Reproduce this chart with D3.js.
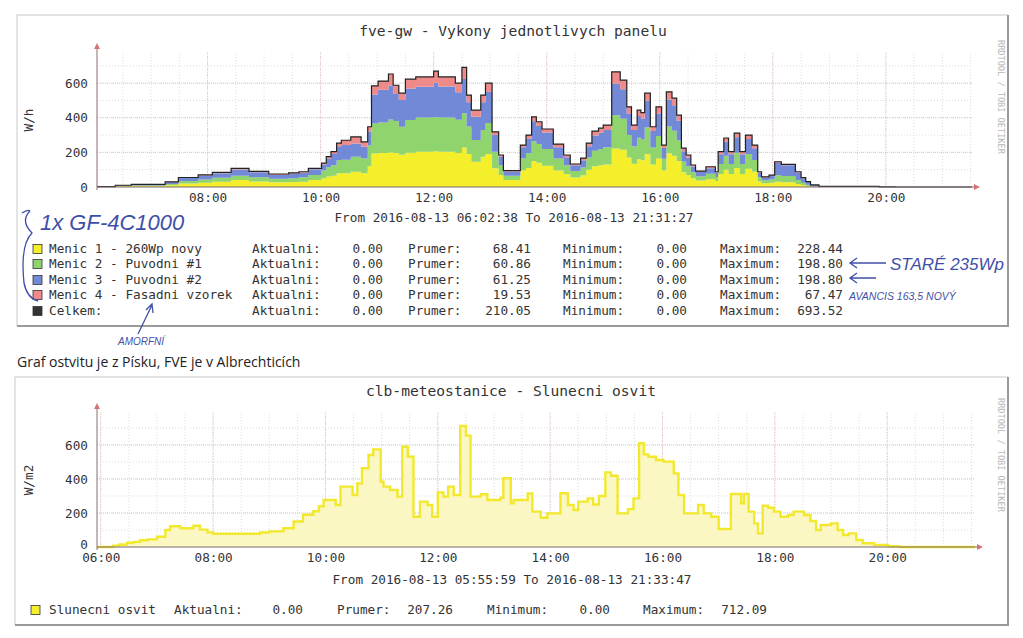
<!DOCTYPE html>
<html>
<head>
<meta charset="utf-8">
<script src="https://cdn.jsdelivr.net/npm/d3@7"></script>
<style>
  body { margin: 0; background: #fff; }
  svg { display: block; }
  .mono { font-family: "DejaVu Sans Mono", monospace; fill: #333; }
  .hand { font-family: "Liberation Sans", sans-serif; font-style: italic; fill: #3f4fa8; }
</style>
</head>
<body>
<svg width="1023" height="638"></svg>
<script>
// ---- fve-gw: vykony jednotlivych panelu (W/h), step values
var topStart = "06:02:38", topEnd = "21:31:27";
var topTimes = ["06:02:38","06:22","06:39","07:15","07:29","07:50","08:05","08:25","08:44","09:05",
  "09:26","09:37","09:47","10:01","10:06","10:11","10:17","10:22","10:32","10:43",
  "10:50","10:54","11:01","11:12","11:17","11:23","11:30","11:41","12:00","12:05",
  "12:23","12:30","12:35","12:40","12:50","12:55","13:02","13:09","13:14","13:32",
  "13:38","13:44","13:49","13:55","14:07","14:18","14:25","14:36","14:42","14:48",
  "14:55","15:00","15:09","15:18","15:25","15:30","15:36","15:40","15:44","15:50",
  "15:56","16:02","16:07","16:13","16:18","16:23","16:28","16:33","16:38","16:49",
  "16:59","17:02","17:08","17:13","17:19","17:25","17:31","17:38","17:44","17:48",
  "17:56","18:02","18:09","18:24","18:30","18:35","18:40","18:49","19:53","20:10"];
var menic1 = [1,4,6,10,20,25,30,40,32,27, 29,31,40,50,60,65,79,80,88,79,
  120,194,196,200,196,186,198,204,206,204, 196,228,190,146,175,190,108,70,40,95,
  110,150,140,123,95,75,55,68,100,120, 125,130,223,215,170,135,160,155,190,130,
  165,95,195,180,150,85,70,50,38,45, 35,75,100,75,110,75,105,88,32,22,
  25,30,28,18,10,5,2,1,0,0];
var menic2 = [0,2,3,8,15,19,23,25,24,20, 22,25,29,45,55,60,77,77,87,86,
  120,173,176,190,185,162,189,198,198,198, 192,198,160,125,155,180,96,55,25,70,
  85,115,108,97,70,50,37,45,70,90, 95,100,192,180,130,100,125,120,155,98,
  130,68,155,145,118,62,50,35,24,32, 23,58,80,58,88,58,86,68,25,17,
  20,38,35,22,14,8,3,1,0,0];
var menic3 = [1,3,5,10,17,22,27,36,29,24, 26,27,33,35,50,65,80,85,77,68,
  80,167,190,196,157,154,182,177,198,179, 160,198,140,135,160,180,96,50,25,65,
  85,115,105,95,65,47,33,42,66,88, 94,100,183,170,125,95,125,120,155,95,
  130,62,155,148,115,60,50,33,24,32, 24,56,82,56,90,56,87,68,25,16,
  20,70,62,44,27,16,6,2,1,0];
var menic4 = [0,1,1,2,3,4,5,7,5,4, 5,5,6,8,10,14,17,28,38,28,
  28,50,50,67,50,40,54,57,67,55, 52,67,41,38,41,50,19,10,5,12,
  20,25,24,20,18,13,8,12,18,25, 26,28,67,52,38,28,34,35,42,25,
  38,17,45,40,32,18,15,9,6,8, 6,15,21,15,23,15,22,18,6,4,
  4,8,6,4,3,2,1,0,0,0];
var seriesNames = ["Menic 1 - 260Wp novy","Menic 2 - Puvodni #1","Menic 3 - Puvodni #2","Menic 4 - Fasadni vzorek","Celkem:"];
var seriesColors = ["#f4ef2a","#8fd46c","#7189d6","#ef8a8a","#333333"];
var topAktualni = ["0.00","0.00","0.00","0.00","0.00"];
var topPrumer = ["68.41","60.86","61.25","19.53","210.05"];
var topMinimum = ["0.00","0.00","0.00","0.00","0.00"];
var topMaximum = ["228.44","198.80","198.80","67.47","693.52"];

// ---- clb-meteostanice: slunecni osvit (W/m2)
var botStart = "05:55:59", botEnd = "21:33:47";
var osvitTimes = ["05:55:59","06:13","06:20","06:28","06:35","06:42","06:50","07:00","07:09","07:14",
  "07:25","07:39","07:46","07:54","08:00","08:50","09:00","09:15","09:26","09:36",
  "09:47","09:53","09:58","10:11","10:16","10:29","10:34","10:39","10:46","10:51",
  "10:59","11:02","11:09","11:17","11:22","11:28","11:34","11:41","11:49","11:54",
  "12:00","12:06","12:11","12:17","12:24","12:30","12:35","12:46","12:53","13:07",
  "13:10","13:18","13:21","13:36","13:41","13:50","13:57","14:11","14:19","14:25",
  "14:30","14:40","14:46","14:52","14:59","15:05","15:12","15:23","15:29","15:35",
  "15:40","15:45","15:53","16:01","16:12","16:17","16:23","16:38","16:44","16:52",
  "17:00","17:13","17:24","17:27","17:32","17:38","17:42","17:47","17:53","17:59",
  "18:06","18:14","18:20","18:31","18:38","18:44","18:49","19:00","19:07","19:13",
  "19:19","19:27","19:34","19:46","20:01","20:13"];
var osvit = [0,8,15,25,30,40,45,60,100,122,
  110,125,102,86,78,85,92,110,150,190,
  210,240,276,247,355,306,374,463,541,574,
  384,355,335,296,590,531,178,267,247,178,
  321,296,355,306,712,655,296,310,276,290,
  404,257,276,315,208,172,198,316,247,218,
  267,286,250,300,439,419,198,223,286,610,
  545,531,512,502,433,306,198,247,198,178,
  106,312,257,312,208,139,80,243,231,208,
  178,188,208,188,153,100,129,139,100,71,
  80,41,22,12,4,0];
var osvitStats = { aktualni: "0.00", prumer: "207.26", minimum: "0.00", maximum: "712.09" };

var yTicks = [0, 200, 400, 600];

var svg = d3.select("svg");
var parse = d3.timeParse("%H:%M:%S");
function tm(s) { return parse(s.length === 5 ? s + ":00" : s); }

svg.append("rect").attr("width", 1023).attr("height", 638).attr("fill", "#fff");

function frame(x0, y0, x1, y1) {
  var g = svg.append("g");
  g.append("path").attr("d", "M" + x0 + "," + y1 + "V" + y0 + "H" + x1)
    .attr("fill", "none").attr("stroke", "#dcdcdc").attr("stroke-width", 1.5);
  g.append("path").attr("d", "M" + x1 + "," + y0 + "V" + y1 + "H" + x0)
    .attr("fill", "none").attr("stroke", "#9a9a9a").attr("stroke-width", 2);
}

function grid(x, y, ymax) {
  var g = svg.append("g");
  var xr = x.range(), yr = y.range();
  var minorX = x.ticks(d3.timeMinute.every(30)), majorX = x.ticks(d3.timeHour.every(2));
  g.selectAll(".mx").data(minorX).enter().append("line")
    .attr("x1", d => x(d)).attr("x2", d => x(d)).attr("y1", yr[0]).attr("y2", yr[1])
    .attr("stroke", "#dedede").attr("stroke-dasharray", "1,2");
  g.selectAll(".my").data(d3.range(100, ymax, 100)).enter().append("line")
    .attr("x1", xr[0]).attr("x2", xr[1]).attr("y1", d => y(d)).attr("y2", d => y(d))
    .attr("stroke", "#dedede").attr("stroke-dasharray", "1,2");
  g.selectAll(".Mx").data(majorX).enter().append("line")
    .attr("x1", d => x(d)).attr("x2", d => x(d)).attr("y1", yr[0]).attr("y2", yr[1])
    .attr("stroke", "#e8c4c4").attr("stroke-dasharray", "1,1");
  g.selectAll(".My").data(yTicks.slice(1)).enter().append("line")
    .attr("x1", xr[0]).attr("x2", xr[1]).attr("y1", d => y(d)).attr("y2", d => y(d))
    .attr("stroke", "#e8c4c4").attr("stroke-dasharray", "1,1");
}

function axes(x, y, unit, labelY, zeroLift) {
  var xr = x.range(), yr = y.range();
  var ya = svg.append("g").attr("transform", "translate(" + xr[0] + ",0)")
    .call(d3.axisLeft(y).tickValues(yTicks).tickSize(0).tickPadding(9).tickFormat(d3.format("d")));
  var xa = svg.append("g").attr("transform", "translate(0," + yr[0] + ")")
    .call(d3.axisBottom(x).ticks(d3.timeHour.every(2)).tickSize(0).tickPadding(6).tickFormat(d3.timeFormat("%H:%M")));
  [ya, xa].forEach(function (a) {
    a.select(".domain").remove();
    a.selectAll("text").attr("class", "mono").style("font-size", "12.7px").attr("font-family", null);
  });
  // rrdtool squeezes the "0" label just above the first time label
  ya.selectAll(".tick").filter(d => d === 0).select("text").attr("y", -zeroLift);
  svg.append("line").attr("x1", xr[0]).attr("x2", xr[1] + 3).attr("y1", yr[0]).attr("y2", yr[0])
    .attr("stroke", "#7a6a6a").attr("stroke-width", 1);
  svg.append("line").attr("x1", xr[0]).attr("x2", xr[0]).attr("y1", yr[0] + 3).attr("y2", yr[1] - 4)
    .attr("stroke", "#8a6e6e").attr("stroke-width", 1);
  svg.append("path").attr("d", "M" + (xr[1] + 8) + "," + yr[0] + "l-6,-3v6z").attr("fill", "#d47474");
  svg.append("path").attr("d", "M" + xr[0] + "," + (yr[1] - 9) + "l-3,6h6z").attr("fill", "#d47474");
  svg.append("text").attr("class", "mono").style("font-size", "12.7px")
    .attr("transform", "translate(33," + labelY + ") rotate(-90)")
    .attr("text-anchor", "middle").text(unit);
}

function watermark(xp, yp) {
  svg.append("text").attr("class", "mono").style("font-size", "8.6px").style("fill", "#b8b8b8")
    .attr("transform", "translate(" + xp + "," + yp + ") rotate(90)").text("RRDTOOL / TOBI OETIKER");
}

function monoText(x, y, s, anchor, size) {
  return svg.append("text").attr("class", "mono").attr("x", x).attr("y", y)
    .attr("dy", "0.35em").attr("text-anchor", anchor || "start")
    .style("font-size", (size || 12.7) + "px").text(s);
}

function swatch(x, y, color) {
  svg.append("rect").attr("x", x).attr("y", y - 4.5).attr("width", 9).attr("height", 9)
    .attr("fill", color).attr("stroke", "#333").attr("stroke-width", 0.8);
}

// ---------- top chart ----------
frame(17, 15, 1008, 326);
var xTop = d3.scaleTime().domain([tm(topStart), tm(topEnd)]).range([97, 972]);
var yTop = d3.scaleLinear().domain([0, 780]).range([187, 52]);
grid(xTop, yTop, 780);

var topRows = topTimes.map(function (s, i) {
  return { time: tm(s), m1: menic1[i], m2: menic2[i], m3: menic3[i], m4: menic4[i] };
});
var lastTop = topRows[topRows.length - 1];
topRows.push({ time: tm(topEnd), m1: lastTop.m1, m2: lastTop.m2, m3: lastTop.m3, m4: lastTop.m4 });

var stacked = d3.stack().keys(["m1", "m2", "m3", "m4"])(topRows);
var areaTop = d3.area().curve(d3.curveStepAfter)
  .x(d => xTop(d.data.time)).y0(d => yTop(d[0])).y1(d => yTop(d[1]));
svg.append("g").selectAll("path").data(stacked).enter().append("path")
  .attr("d", areaTop).attr("fill", (d, i) => seriesColors[i]);
svg.append("path").datum(topRows)
  .attr("d", d3.line().curve(d3.curveStepAfter).x(d => xTop(d.time)).y(d => yTop(d.m1 + d.m2 + d.m3 + d.m4)))
  .attr("fill", "none").attr("stroke", "#222").attr("stroke-width", 1.2);

axes(xTop, yTop, "W/h", 120, 0);
watermark(998, 40);
monoText(513, 31, "fve-gw - Vykony jednotlivych panelu", "middle", 14.6);
monoText(514, 218, "From 2016-08-13 " + topStart + " To 2016-08-13 " + topEnd, "middle");

var rowY = [249, 264, 280, 295, 311];
seriesNames.forEach(function (name, i) {
  swatch(33, rowY[i], seriesColors[i]);
  monoText(49, rowY[i], name);
  monoText(252, rowY[i], "Aktualni:");
  monoText(383, rowY[i], topAktualni[i], "end");
  monoText(408, rowY[i], "Prumer:");
  monoText(531, rowY[i], topPrumer[i], "end");
  monoText(563, rowY[i], "Minimum:");
  monoText(687, rowY[i], topMinimum[i], "end");
  monoText(720, rowY[i], "Maximum:");
  monoText(843, rowY[i], topMaximum[i], "end");
});

// ---------- note between charts ----------
svg.append("text").attr("x", 17).attr("y", 367)
  .style("font-family", "'Open Sans', sans-serif").style("font-size", "14px").style("fill", "#222")
  .text("Graf ostvitu je z Písku, FVE je v Albrechticích");

// ---------- bottom chart ----------
frame(15, 377, 1008, 625);
var xBot = d3.scaleTime().domain([tm(botStart), tm(botEnd)]).range([97, 975]);
var yBot = d3.scaleLinear().domain([0, 794]).range([547, 412]);
grid(xBot, yBot, 794);

var botRows = osvitTimes.map(function (s, i) { return { time: tm(s), v: osvit[i] }; });
botRows.push({ time: tm(botEnd), v: osvit[osvit.length - 1] });
svg.append("path").datum(botRows)
  .attr("d", d3.area().curve(d3.curveStepAfter).x(d => xBot(d.time)).y0(yBot(0)).y1(d => yBot(d.v)))
  .attr("fill", "#fbf7c2");
svg.append("path").datum(botRows)
  .attr("d", d3.line().curve(d3.curveStepAfter).x(d => xBot(d.time)).y(d => yBot(d.v)))
  .attr("fill", "none").attr("stroke", "#f2e92e").attr("stroke-width", 2.4);

axes(xBot, yBot, "W/m2", 480, 3);
watermark(998, 398);
monoText(511, 391, "clb-meteostanice - Slunecni osvit", "middle", 14.6);
monoText(512, 580, "From 2016-08-13 " + botStart + " To 2016-08-13 " + botEnd, "middle");
swatch(31, 610, "#f4ef2a");
monoText(49, 610, "Slunecni osvit");
monoText(174, 610, "Aktualni:");
monoText(303, 610, osvitStats.aktualni, "end");
monoText(337, 610, "Prumer:");
monoText(453, 610, osvitStats.prumer, "end");
monoText(487, 610, "Minimum:");
monoText(610, 610, osvitStats.minimum, "end");
monoText(643, 610, "Maximum:");
monoText(767, 610, osvitStats.maximum, "end");

// ---------- handwritten notes ----------
var hand = svg.append("g").attr("fill", "none").attr("stroke", "#3f4fa8").attr("stroke-width", 1.3);
hand.append("path").attr("d", "M22,213 q6,-4 8,-2 M30,211 q-10,10 2,22 q-12,12 -8,50 q3,15 14,18");
hand.append("path").attr("d", "M138,334 L152,305 M146,310 l6,-6 l1,9");
hand.append("path").attr("d", "M886,263 H850 M857,258 l-7,5 l7,5");
hand.append("path").attr("d", "M876,278 H850 M857,273 l-7,5 l7,5");
svg.append("text").attr("class", "hand").attr("x", 40).attr("y", 230).style("font-size", "22px").text("1x GF-4C1000");
svg.append("text").attr("class", "hand").attr("x", 890).attr("y", 270).style("font-size", "17px").text("STARÉ 235Wp");
svg.append("text").attr("class", "hand").attr("x", 849).attr("y", 300).style("font-size", "10.5px").text("AVANCIS 163,5 NOVÝ");
svg.append("text").attr("class", "hand").attr("x", 118).attr("y", 345).style("font-size", "10px").text("AMORFNÍ");
</script>
</body>
</html>
